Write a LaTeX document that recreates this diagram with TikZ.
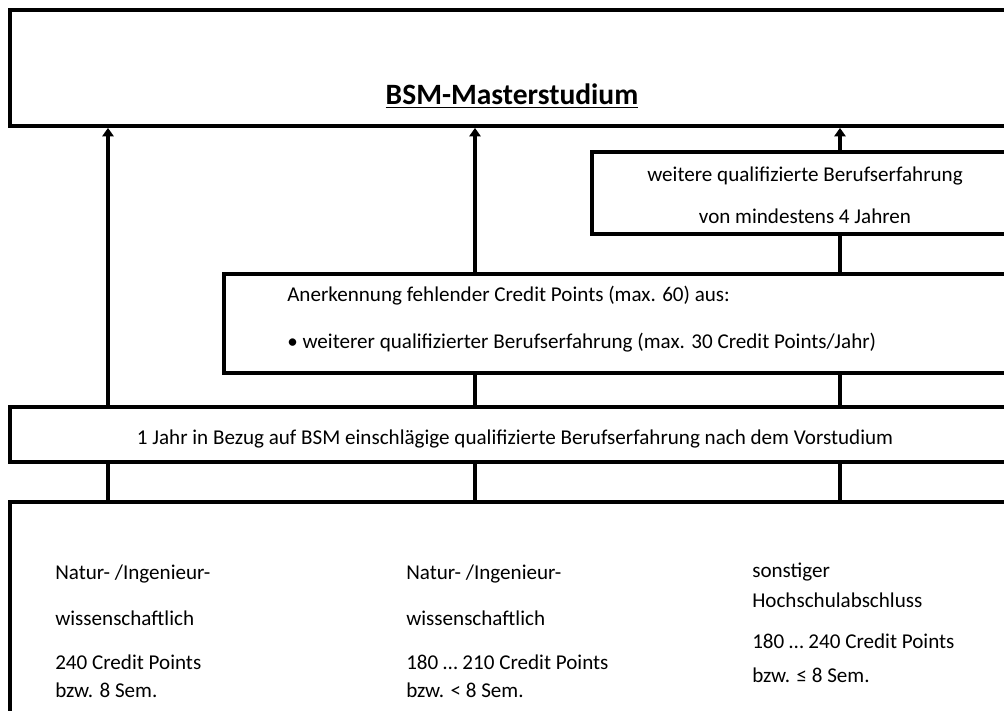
\documentclass[tikz,border=0pt]{standalone}
\usepackage{fontspec}
\setmainfont{Carlito}
\usetikzlibrary{positioning,arrows.meta}

\begin{document}
\begin{tikzpicture}[
      box/.style={rectangle, draw=black, fill=white, line width=2.8pt, anchor=north west, inner sep=0pt},
      flow/.style={line width=3.5pt, -{Triangle[length=6pt,width=8pt]}},
      txt/.style={font=\fontsize{15}{18}\selectfont, inner sep=0pt},
      ]
      \clip (0,0) rectangle (25.1,-17.775);
      \coordinate (colA) at (2.7,0);
      \coordinate (colB) at (11.875,0);
      \coordinate (colC) at (21.0,0);

      \node[box, minimum width=25.2cm, minimum height=2.9cm] (master) at (0.2,-0.2) {};
      \node[box, minimum width=25.3cm, minimum height=6cm] (base) at (0.2,-12.5) {};

      \draw[flow] (base.north -| colA) -- (master.south -| colA);
      \draw[flow] (base.north -| colB) -- (master.south -| colB);
      \draw[flow] (base.north -| colC) -- (master.south -| colC);

      \node[box, minimum width=10.75cm, minimum height=2.05cm] (weitere) at (14.75,-3.75) {};
      \node[box, minimum width=19.95cm, minimum height=2.475cm] (anerk) at (5.55,-6.8) {};
      \node[box, minimum width=25.25cm, minimum height=1.375cm] (jahr) at (0.2,-10.125) {};

      \node[txt, font=\bfseries\fontsize{21}{25}\selectfont] (title) at (12.8,-2.4) {\underline{BSM-Masterstudium}};

      \node[txt] (wA) at (20.125,-4.4) {weitere qualifizierte Berufserfahrung};
      \node[txt] (wB) at (20.125,-5.4) {von mindestens 4 Jahren};

      \node[txt, anchor=west] (aA) at (7.175,-7.4) {Anerkennung fehlender Credit Points (max. 60) aus:};
      \node[txt, anchor=west] (aB) at (7.175,-8.575) {\textbullet\ weiterer qualifizierter Berufserfahrung (max. 30 Credit Points/Jahr)};

      \node[txt] (jA) at (12.875,-10.975) {1 Jahr in Bezug auf BSM einschlägige qualifizierte Berufserfahrung nach dem Vorstudium};

      \node[txt, anchor=west] (nA1) at (1.375,-14.35) {Natur- /Ingenieur-};
      \node[txt, anchor=west] (nA2) at (1.375,-15.45) {wissenschaftlich};
      \node[txt, anchor=west] (nA3) at (1.375,-16.55) {240 Credit Points};
      \node[txt, anchor=west] (nA4) at (1.375,-17.25) {bzw. 8 Sem.};

      \node[txt, anchor=west] (nB1) at (10.15,-14.35) {Natur- /Ingenieur-};
      \node[txt, anchor=west] (nB2) at (10.15,-15.45) {wissenschaftlich};
      \node[txt, anchor=west] (nB3) at (10.15,-16.55) {180 … 210 Credit Points};
      \node[txt, anchor=west] (nB4) at (10.15,-17.25) {bzw. < 8 Sem.};

      \node[txt, anchor=west] (sC1) at (18.8,-14.3) {sonstiger};
      \node[txt, anchor=west] (sC2) at (18.8,-15.0) {Hochschulabschluss};
      \node[txt, anchor=west] (sC3) at (18.8,-16.025) {180 … 240 Credit Points};
      \node[txt, anchor=west] (sC4) at (18.8,-16.875) {bzw. ≤ 8 Sem.};
    \end{tikzpicture}
\end{document}
